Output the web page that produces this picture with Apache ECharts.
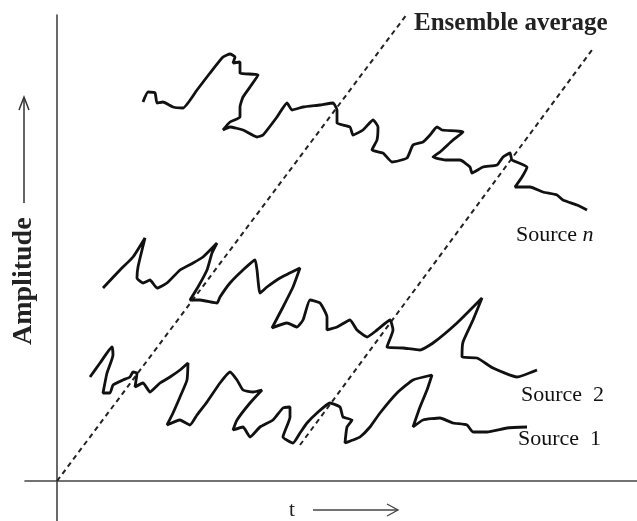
<!DOCTYPE html>
<html>
<head>
<meta charset="utf-8">
<script src="https://cdn.jsdelivr.net/npm/echarts@6/dist/echarts.min.js"></script>
<style>
  html, body { margin: 0; padding: 0; background: #fff; }
  #chart { width: 637px; height: 521px; }
</style>
</head>
<body>
<div id="chart"></div>
<script>
// schematic traces, [t, amplitude]
var sourceN = [[86,379],[91,389],[98,388],[100,378],[106,379],[116,374],[126,373],[140,391],[153,408],[166,424],[173,427],[178,424],[176,418],[183,419],[183,408],[201,406],[193,394],[186,384],[183,374],[183,364],[173,359],[166,351],[173,354],[186,351],[200,344],[206,346],[220,364],[230,378],[235,371],[246,374],[263,376],[276,378],[280,371],[280,358],[293,354],[296,346],[306,351],[316,361],[321,354],[320,341],[315,331],[326,328],[335,319],[350,323],[356,336],[366,339],[373,346],[380,354],[385,351],[406,349],[396,341],[383,329],[376,324],[390,321],[403,321],[413,314],[415,308],[426,314],[440,316],[446,324],[453,328],[455,321],[470,314],[465,304],[458,294],[473,294],[486,289],[500,286],[506,281],[520,276],[530,271]];
var source2 = [[46,193],[63,211],[76,224],[88,243],[81,214],[80,203],[86,198],[93,201],[100,193],[110,198],[123,211],[136,218],[146,224],[160,238],[155,228],[150,211],[141,194],[133,181],[143,181],[160,178],[163,184],[173,198],[186,211],[198,221],[200,211],[203,188],[210,194],[223,203],[243,213],[236,194],[226,174],[215,153],[230,158],[240,154],[246,161],[253,181],[263,178],[270,164],[270,151],[280,154],[293,161],[300,151],[310,144],[320,151],[333,161],[336,151],[330,134],[346,133],[363,131],[376,138],[400,158],[425,183],[416,161],[406,139],[405,124],[420,123],[436,113],[460,104],[480,111]];
var source1 = [[33,104],[43,118],[55,134],[56,126],[50,108],[46,88],[53,88],[56,96],[66,101],[73,104],[76,109],[80,108],[78,94],[86,98],[93,89],[103,98],[113,104],[123,111],[131,118],[130,101],[123,84],[116,68],[110,56],[123,61],[133,56],[140,66],[150,79],[163,98],[173,109],[180,101],[186,91],[196,89],[205,91],[193,78],[180,61],[176,51],[186,54],[193,44],[203,54],[216,61],[226,73],[233,74],[233,64],[226,44],[236,38],[243,48],[250,58],[260,68],[273,78],[283,74],[286,64],[295,61],[290,54],[288,38],[296,41],[303,44],[313,54],[323,68],[340,88],[356,101],[375,106],[370,91],[363,74],[356,54],[366,61],[383,63],[396,58],[410,56],[416,49],[430,49],[450,53],[470,54]];
var ensemble1 = [[0,0],[350,467]];
var ensemble2 = [[243,36],[535,431]];

var chart = echarts.init(document.getElementById('chart'));

var serif = '"Liberation Serif", "DejaVu Serif", serif';

function wiggle(data) {
    return {
        type: 'line',
        data: data,
        showSymbol: false,
        smooth: 0.15,
        silent: true,
        lineStyle: { color: '#111', width: 2.8 }
    };
}
function dashed(data) {
    return {
        type: 'line',
        data: data,
        showSymbol: false,
        silent: true,
        lineStyle: { color: '#222', width: 2, type: [5, 4] }
    };
}

var option = {
    animation: false,
    backgroundColor: '#fff',
    grid: { left: 25, right: 0, top: 15, bottom: 0 },
    xAxis: {
        type: 'value', min: -32, max: 580,
        axisLine: { onZero: true, lineStyle: { color: '#444', width: 1.6 } },
        axisTick: { show: false }, axisLabel: { show: false }, splitLine: { show: false }
    },
    yAxis: {
        type: 'value', min: -40, max: 466,
        axisLine: { show: true, onZero: true, lineStyle: { color: '#444', width: 1.6 } },
        axisTick: { show: false }, axisLabel: { show: false }, splitLine: { show: false }
    },
    series: [
        dashed(ensemble1),
        dashed(ensemble2),
        wiggle(sourceN),
        wiggle(source2),
        wiggle(source1)
    ],
    graphic: [
        { type: 'text', left: 414, top: 11, style: { text: 'Ensemble average', font: 'bold 25px ' + serif, fill: '#222' } },
        { type: 'text', left: 516, top: 224, style: {
            text: '{a|Source }{b|n}', fill: '#111',
            rich: { a: { font: '22px ' + serif, fill: '#111' }, b: { font: 'italic 22px ' + serif, fill: '#111' } }
        } },
        { type: 'text', left: 521, top: 384, style: { text: 'Source  2', font: '22px ' + serif, fill: '#111' } },
        { type: 'text', left: 518, top: 428, style: { text: 'Source  1', font: '22px ' + serif, fill: '#111' } },
        // vertical label with arrow
        { type: 'text', x: 10, y: 345, rotation: Math.PI / 2, style: { text: 'Amplitude', font: 'bold 28px ' + serif, fill: '#222' } },
        { type: 'line', shape: { x1: 24, y1: 203, x2: 24, y2: 98 }, style: { stroke: '#333', lineWidth: 1.5 } },
        { type: 'polyline', shape: { points: [[19, 110], [24, 97], [29, 110]] }, style: { stroke: '#333', lineWidth: 1.5, fill: null } },
        // time label with arrow
        { type: 'text', left: 289, top: 500, style: { text: 't', font: '21px ' + serif, fill: '#222' } },
        { type: 'line', shape: { x1: 313, y1: 510, x2: 398, y2: 510 }, style: { stroke: '#444', lineWidth: 1.3 } },
        { type: 'polyline', shape: { points: [[387, 504], [398, 510], [387, 516]] }, style: { stroke: '#444', lineWidth: 1.3, fill: null } }
    ]
};

chart.setOption(option);
</script>
</body>
</html>
